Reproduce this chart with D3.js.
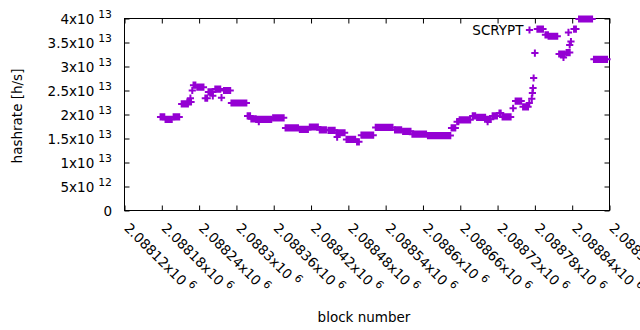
<!DOCTYPE html>
<html>
<head>
<meta charset="utf-8">
<script src="https://cdn.jsdelivr.net/npm/d3@7"></script>
<style>
body { margin: 0; background: #fff; }
text { font-family: "DejaVu Sans", sans-serif; font-size: 13.5px; fill: #000; }
</style>
</head>
<body>
<svg id="chart" width="640" height="330"></svg>
<script>
// hashrate readings, in units of 1e13 h/s.
// consecutive blocks with the same reading are kept as one run (start..end)
const runStart = [2088178, 2088186, 2088199, 2088212, 2088221, 2088226, 2088229, 2088231, 2088237, 2088250,
    2088255, 2088262, 2088266, 2088276, 2088280, 2088292, 2088318, 2088324, 2088332, 2088336,
    2088359, 2088379, 2088402, 2088418, 2088434, 2088448, 2088461, 2088462, 2088477, 2088494,
    2088501, 2088524, 2088555, 2088568, 2088583, 2088608, 2088646, 2088655, 2088659, 2088680,
    2088687, 2088703, 2088704, 2088712, 2088723, 2088728, 2088745, 2088749, 2088761, 2088771,
    2088775, 2088776, 2088777, 2088778, 2088780, 2088784, 2088797, 2088802, 2088819, 2088826,
    2088831, 2088834, 2088836, 2088838, 2088843, 2088851, 2088875];
const runEnd = [2088184, 2088196, 2088208, 2088222, 2088227, 2088226, 2088229, 2088234, 2088247, 2088253,
    2088262, 2088262, 2088274, 2088276, 2088290, 2088316, 2088322, 2088331, 2088356, 2088336,
    2088376, 2088399, 2088415, 2088431, 2088444, 2088458, 2088474, 2088462, 2088491, 2088497,
    2088520, 2088551, 2088565, 2088580, 2088605, 2088644, 2088652, 2088657, 2088676, 2088684,
    2088700, 2088709, 2088704, 2088719, 2088725, 2088741, 2088745, 2088758, 2088769, 2088771,
    2088775, 2088776, 2088777, 2088778, 2088780, 2088793, 2088801, 2088816, 2088828, 2088826,
    2088836, 2088834, 2088836, 2088838, 2088846, 2088872, 2088896];
const runRate = [1.95, 1.90, 1.95, 2.22, 2.26, 2.34, 2.50, 2.61, 2.57, 2.34,
    2.47, 2.39, 2.53, 2.35, 2.50, 2.24, 1.97, 1.91, 1.90, 1.85,
    1.93, 1.72, 1.69, 1.74, 1.68, 1.67, 1.62, 1.53, 1.48, 1.43,
    1.57, 1.73, 1.68, 1.65, 1.59, 1.56, 1.72, 1.85, 1.89, 1.97,
    1.94, 1.90, 1.85, 1.97, 2.03, 1.95, 2.13, 2.28, 2.16, 2.24,
    2.33, 2.45, 2.55, 2.76, 3.28, 3.78, 3.66, 3.63, 3.26, 3.19,
    3.29, 3.71, 3.45, 3.52, 3.78, 3.99, 3.15];

const xTicks = [2088120, 2088180, 2088240, 2088300, 2088360, 2088420, 2088480,
    2088540, 2088600, 2088660, 2088720, 2088780, 2088840, 2088900];
const xTickLabels = ["2.08812", "2.08818", "2.08824", "2.0883", "2.08836", "2.08842", "2.08848",
    "2.08854", "2.0886", "2.08866", "2.08872", "2.08878", "2.08884", "2.0889"];
const yTicks = [0, 0.5, 1, 1.5, 2, 2.5, 3, 3.5, 4];
const yTickMant = ["0", "5", "1", "1.5", "2", "2.5", "3", "3.5", "4"];
const yTickExp = ["", "12", "13", "13", "13", "13", "13", "13", "13"];

const color = "#9400d3";
const plotL = 124.5, plotR = 609.5, plotT = 18.5, plotB = 210.5;
const ms = 3.6; // half size of the + marker

const svg = d3.select("#chart");

const x = d3.scaleLinear().domain([2088120, 2088900]).range([plotL, plotR]);
const y = d3.scaleLinear().domain([0, 4]).range([plotB, plotT]);

// ticks on all four sides, pointing inwards
svg.append("g")
    .attr("transform", `translate(0,${plotB})`)
    .call(d3.axisBottom(x).tickValues(xTicks).tickSize(-5).tickFormat(""));
svg.append("g")
    .attr("transform", `translate(0,${plotT})`)
    .call(d3.axisTop(x).tickValues(xTicks).tickSize(-5).tickFormat(""));
svg.append("g")
    .attr("transform", `translate(${plotL},0)`)
    .call(d3.axisLeft(y).tickValues(yTicks).tickSize(-5).tickFormat(""));
svg.append("g")
    .attr("transform", `translate(${plotR},0)`)
    .call(d3.axisRight(y).tickValues(yTicks).tickSize(-5).tickFormat(""));
svg.selectAll(".domain").remove();

svg.append("rect")
    .attr("x", plotL)
    .attr("y", plotT)
    .attr("width", plotR - plotL)
    .attr("height", plotB - plotT)
    .attr("fill", "none")
    .attr("stroke", "#000")
    .attr("stroke-width", 1);

// y tick labels
svg.append("g")
    .selectAll("text")
    .data(yTicks)
    .join("text")
    .attr("x", 112)
    .attr("y", d => y(d) + 5)
    .attr("text-anchor", "end")
    .each(function(d, i) {
        var t = d3.select(this);
        if (yTickExp[i] === "") {
            t.text(yTickMant[i]);
            return;
        }
        t.append("tspan").text(yTickMant[i] + "x10");
        t.append("tspan")
            .attr("dx", 4)
            .attr("dy", -6)
            .style("font-size", "10.8px")
            .text(yTickExp[i]);
    });

// x tick labels, rotated
svg.append("g")
    .selectAll("text")
    .data(xTicks)
    .join("text")
    .attr("transform", d => `translate(${x(d) - 1},229) rotate(45)`)
    .attr("text-anchor", "start")
    .each(function(d, i) {
        var t = d3.select(this);
        t.append("tspan").text(xTickLabels[i] + "x10");
        t.append("tspan")
            .attr("dx", 4)
            .attr("dy", -6)
            .style("font-size", "10.8px")
            .text("6");
    });

svg.append("text")
    .attr("transform", "translate(22,116) rotate(-90)")
    .attr("text-anchor", "middle")
    .text("hashrate [h/s]");

svg.append("text")
    .attr("x", 364)
    .attr("y", 322)
    .attr("text-anchor", "middle")
    .text("block number");

// overlapping + markers of a run: a tall bar plus the horizontal arms
function runPath(x0, x1, yc) {
    return `M${x0 - 1},${yc - ms}H${x1 + 1}V${yc + ms}H${x0 - 1}Z` +
        `M${x0 - ms},${yc - 1}H${x1 + ms}V${yc + 1}H${x0 - ms}Z`;
}

svg.append("g")
    .selectAll("path")
    .data(runRate)
    .join("path")
    .attr("d", (d, i) => runPath(x(runStart[i]), x(runEnd[i]), y(d)))
    .attr("fill", color);

// key
svg.append("text")
    .attr("x", 523.5)
    .attr("y", 35)
    .attr("text-anchor", "end")
    .text("SCRYPT");
svg.append("path")
    .attr("d", runPath(529.5, 529.5, 30))
    .attr("fill", color);
</script>
</body>
</html>
